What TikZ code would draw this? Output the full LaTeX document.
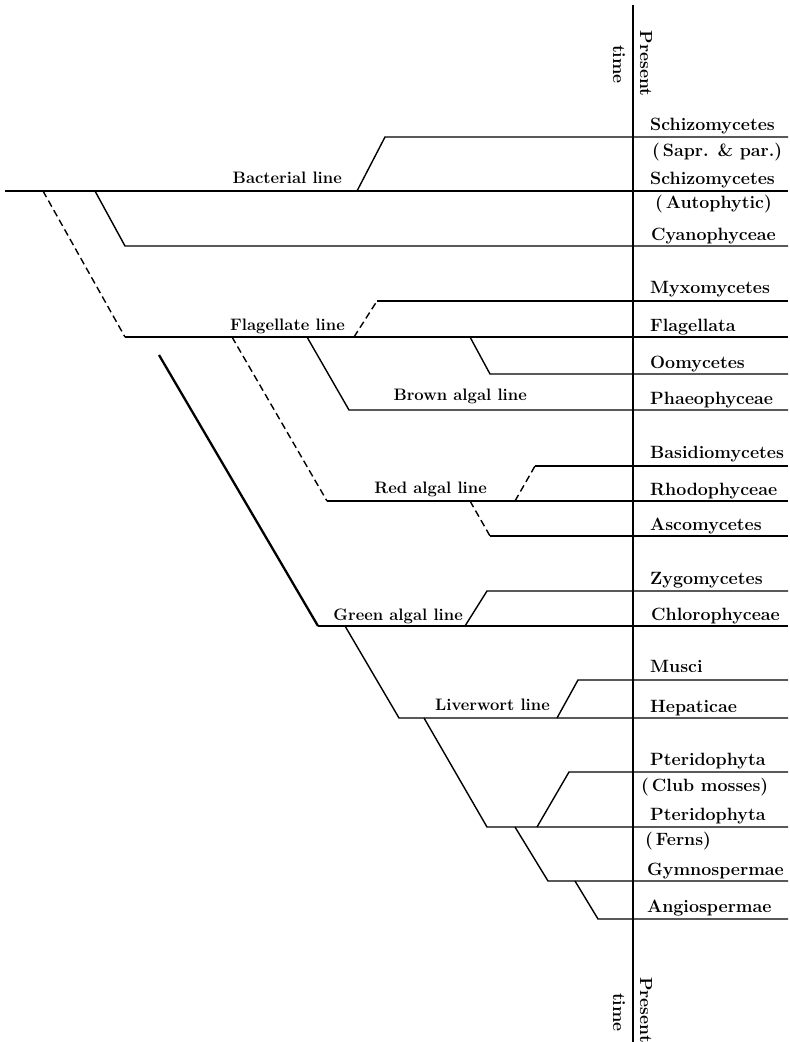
\documentclass[tikz,border=0pt]{standalone}
\usepackage{fontspec}
\usepackage{tikz}
\usetikzlibrary{positioning, calc}

\begin{document}
\begin{tikzpicture}[x=1pt, y=-1pt,
  br/.style={line width=1.4pt, line join=miter},
  brd/.style={br, dash pattern=on 7pt off 4pt},
  trunk/.style={line width=2.3pt},
  tax/.style={anchor=base west, inner sep=0pt, font=\fontsize{17.8}{20}\selectfont\bfseries},
  lin/.style={anchor=base east, inner sep=0pt, font=\fontsize{16.6}{18}\selectfont\bfseries},
  ptime/.style={rotate=-90, anchor=base, inner sep=0pt, font=\fontsize{17.5}{19}\selectfont\bfseries}
]
\useasboundingbox (0,0) rectangle (790,1042);

% time axis
\coordinate (axtop) at (633,5);
\coordinate (axbot) at (633,1050);
\draw[br] (axtop) -- (axbot);
\node[ptime] (prtop) at (640,63.5) {Present};
\node[ptime] (tmtop) at (613,64.5) {time};
\node[ptime] (prbot) at (640,1010) {Present};
\node[ptime] (tmbot) at (613,1012.5) {time};

% junctions
\coordinate (root) at (5,191);      \coordinate (mainE) at (788,191);
\coordinate (flaFork) at (43,191);  \coordinate (flaS) at (125,337); \coordinate (flaE) at (788,337);
\coordinate (cyaFork) at (95,191);  \coordinate (cyaS) at (125,246); \coordinate (cyaE) at (788,246);
\coordinate (bacFork) at (357,191); \coordinate (schS) at (385,137); \coordinate (schE) at (788,137);
\coordinate (myxFork) at (354,337); \coordinate (myxS) at (377,301); \coordinate (myxE) at (788,301);
\coordinate (ooFork) at (470,337);  \coordinate (ooS) at (490,374);  \coordinate (ooE) at (788,374);
\coordinate (phaFork) at (307,337); \coordinate (phaS) at (349,410); \coordinate (phaE) at (788,410);
\coordinate (rhoFork) at (232,337); \coordinate (rhoS) at (327,501); \coordinate (rhoE) at (788,501);
\coordinate (basFork) at (515,501); \coordinate (basS) at (535,466); \coordinate (basE) at (788,466);
\coordinate (ascFork) at (470,501); \coordinate (ascS) at (490,536); \coordinate (ascE) at (788,536);
\coordinate (grnTop) at (159,355);  \coordinate (chlS) at (318,626); \coordinate (chlE) at (788,626);
\coordinate (zygFork) at (465,626); \coordinate (zygS) at (487,591); \coordinate (zygE) at (788,591);
\coordinate (hepFork) at (345,626); \coordinate (hepS) at (399,718); \coordinate (hepE) at (788,718);
\coordinate (musFork) at (557,718); \coordinate (musS) at (578,680); \coordinate (musE) at (788,680);
\coordinate (ferFork) at (424,718); \coordinate (ferS) at (487,827); \coordinate (ferE) at (788,827);
\coordinate (cluFork) at (537,827); \coordinate (cluS) at (569,772); \coordinate (cluE) at (788,772);
\coordinate (gymFork) at (515,827); \coordinate (gymS) at (548,881); \coordinate (gymE) at (788,881);
\coordinate (angFork) at (575,881); \coordinate (angS) at (598,919); \coordinate (angE) at (788,919);

% lines of descent
\draw[br] (root) -- (mainE);
\draw[br] (bacFork) -- (schS) -- (schE);
\draw[br] (cyaFork) -- (cyaS) -- (cyaE);
\draw[brd] (flaFork) -- (flaS);
\draw[br] (flaS) -- (flaE);
\draw[brd] (myxFork) -- (myxS);
\draw[br] (myxS) -- (myxE);
\draw[br] (ooFork) -- (ooS) -- (ooE);
\draw[br] (phaFork) -- (phaS) -- (phaE);
\draw[brd] (rhoFork) -- (rhoS);
\draw[br] (rhoS) -- (rhoE);
\draw[brd] (basFork) -- (basS);
\draw[br] (basS) -- (basE);
\draw[brd] (ascFork) -- (ascS);
\draw[br] (ascS) -- (ascE);
\draw[trunk] (grnTop) -- (chlS);
\draw[br] (chlS) -- (chlE);
\draw[br] (zygFork) -- (zygS) -- (zygE);
\draw[br] (hepFork) -- (hepS) -- (hepE);
\draw[br] (musFork) -- (musS) -- (musE);
\draw[br] (ferFork) -- (ferS) -- (ferE);
\draw[br] (cluFork) -- (cluS) -- (cluE);
\draw[br] (gymFork) -- (gymS) -- (gymE);
\draw[br] (angFork) -- (angS) -- (angE);

% lineage names
\node[lin] (bacline) at (342,183) {Bacterial line};
\node[lin] (flaline) at (345,330) {Flagellate line};
\node[lin] (brnline) at (527,400) {Brown algal line};
\node[lin] (redline) at (487,493) {Red algal line};
\node[lin] (grnline) at (463,620) {Green algal line};
\node[lin] (livline) at (550,710) {Liverwort line};

% groups living at present time
\node[tax] (schizoA) at (650,130.5) {Schizomycetes};
\node[tax] (sapr) at (652,156) {(\,Sapr. \& par.)};
\node[tax] (schizoB) at (650,184.5) {Schizomycetes};
\node[tax] (auto) at (655,208) {(\,Autophytic)};
\node[tax] (cyano) at (651,240) {Cyanophyceae};
\node[tax] (myxo) at (650,293) {Myxomycetes};
\node[tax] (flag) at (650,331) {Flagellata};
\node[tax] (oomy) at (650,368.5) {Oomycetes};
\node[tax] (phaeo) at (650,404) {Phaeophyceae};
\node[tax] (basid) at (650,458.5) {Basidiomycetes};
\node[tax] (rhodo) at (650,495) {Rhodophyceae};
\node[tax] (asco) at (650,530) {Ascomycetes};
\node[tax] (zygo) at (650,584) {Zygomycetes};
\node[tax] (chloro) at (651,620) {Chlorophyceae};
\node[tax] (musci) at (650,672) {Musci};
\node[tax] (hepat) at (650,712) {Hepaticae};
\node[tax] (pteA) at (650,765) {Pteridophyta};
\node[tax] (club) at (641,791) {(\,Club mosses)};
\node[tax] (pteB) at (650,820) {Pteridophyta};
\node[tax] (ferns) at (645,845) {(\,Ferns)};
\node[tax] (gymno) at (647,875) {Gymnospermae};
\node[tax] (angio) at (647,912) {Angiospermae};
\end{tikzpicture}
\end{document}
